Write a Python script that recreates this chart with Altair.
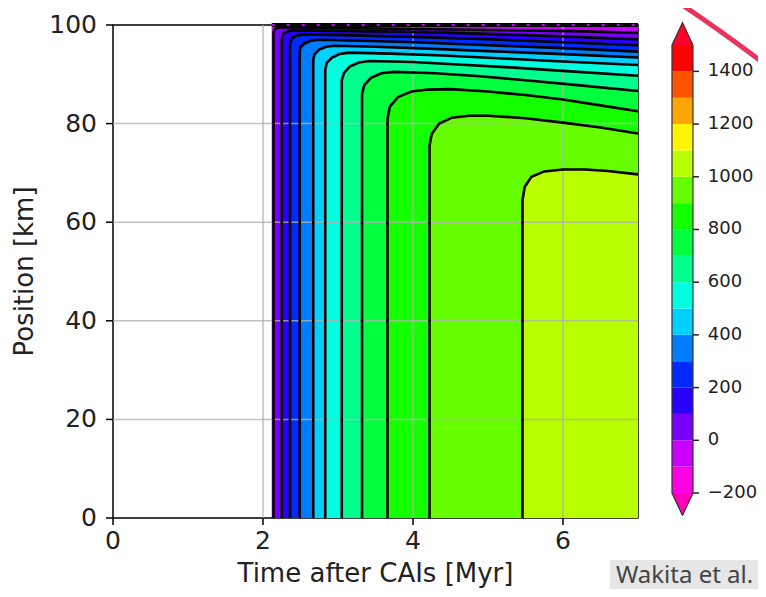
import altair as alt
import pandas as pd

# ---------------- main panel values ----------------
X_DOMAIN = [0, 7]
Y_DOMAIN = [0, 100]
X_TICKS = [0, 2, 4, 6]
Y_TICKS = [0, 20, 40, 60, 80, 100]
GRID_T = [2, 4, 6]
GRID_POS = [20, 40, 60, 80]
DATA_T_START = 2.116
DATA_T_END = 7.0
X_TITLE = "Time after CAIs [Myr]"
Y_TITLE = "Position [km]"

LEVELS = [0, 100, 200, 300, 400, 500, 600, 700, 800, 900, 1000]

c0_t = [2.14, 2.14, 2.145, 2.16, 2.19, 2.24, 2.5, 3.5, 4.5, 5.5, 6.3, 7.0]
c0_pos = [0, 98.2, 98.8, 99.2, 99.4, 99.5, 99.5, 99.3, 99.1, 98.9, 98.7, 98.4]
c100_t = [2.25, 2.25, 2.257, 2.28, 2.33, 2.40, 3.0, 4.0, 5.0, 6.0, 7.0]
c100_pos = [0, 97.2, 97.8, 98.4, 98.75, 98.9, 98.8, 98.6, 98.2, 97.7, 97.1]
c200_t = [2.36, 2.36, 2.37, 2.40, 2.46, 2.56, 3.2, 4.0, 5.0, 6.0, 7.0]
c200_pos = [0, 96.0, 96.8, 97.5, 97.9, 98.1, 97.9, 97.6, 97.1, 96.5, 95.9]
c300_t = [2.49, 2.49, 2.50, 2.56, 2.64, 2.74, 3.3, 4.0, 5.0, 6.0, 7.0]
c300_pos = [0, 94.6, 95.5, 96.3, 96.8, 97.0, 96.8, 96.5, 95.9, 95.3, 94.6]
c400_t = [2.67, 2.67, 2.69, 2.75, 2.84, 2.95, 3.5, 4.2, 5.0, 6.0, 7.0]
c400_pos = [0, 93.0, 94.1, 95.0, 95.6, 95.8, 95.6, 95.2, 94.7, 94.1, 93.4]
c500_t = [2.83, 2.83, 2.85, 2.92, 3.02, 3.15, 3.7, 4.4, 5.2, 6.0, 7.0]
c500_pos = [0, 91.0, 92.3, 93.4, 94.1, 94.4, 94.2, 93.8, 93.2, 92.6, 91.9]
c600_t = [3.05, 3.05, 3.08, 3.16, 3.28, 3.42, 4.0, 4.6, 5.3, 6.1, 7.0]
c600_pos = [0, 88.8, 90.3, 91.6, 92.4, 92.7, 92.5, 92.0, 91.4, 90.6, 89.7]
c700_t = [3.32, 3.32, 3.35, 3.44, 3.58, 3.74, 4.3, 4.9, 5.5, 6.2, 7.0]
c700_pos = [0, 86.0, 87.8, 89.3, 90.2, 90.5, 90.2, 89.6, 88.8, 87.8, 86.6]
c800_t = [3.66, 3.66, 3.69, 3.80, 3.98, 4.2, 4.5, 5.0, 5.5, 6.0, 6.5, 7.0]
c800_pos = [0, 81.0, 83.4, 85.4, 86.5, 86.9, 87.0, 86.5, 85.8, 84.9, 83.7, 82.5]
c900_t = [4.22, 4.22, 4.25, 4.35, 4.52, 4.75, 5.0, 5.5, 6.0, 6.5, 7.0]
c900_pos = [0, 75.5, 77.9, 80.0, 81.2, 81.6, 81.6, 81.1, 80.2, 79.2, 78.0]
c1000_t = [5.46, 5.46, 5.49, 5.58, 5.75, 6.0, 6.3, 6.6, 7.0]
c1000_pos = [0, 64.5, 67.2, 69.2, 70.3, 70.7, 70.7, 70.4, 69.7]

CONTOURS = {
    0: (c0_t, c0_pos), 100: (c100_t, c100_pos), 200: (c200_t, c200_pos),
    300: (c300_t, c300_pos), 400: (c400_t, c400_pos), 500: (c500_t, c500_pos),
    600: (c600_t, c600_pos), 700: (c700_t, c700_pos), 800: (c800_t, c800_pos),
    900: (c900_t, c900_pos), 1000: (c1000_t, c1000_pos),
}

# ---------------- colour bar values ----------------
CB_LOWER = [-200, -100, 0, 100, 200, 300, 400, 500, 600, 700, 800, 900,
            1000, 1100, 1200, 1300, 1400]
CB_STEP = 100
CB_COLORS = ["#ff00e2", "#c900ff", "#7800ff", "#2700ff", "#002bff", "#007dff",
             "#00cfff", "#00ffde", "#00ff8d", "#00ff3c", "#14ff00", "#66ff00",
             "#b8ff00", "#fff500", "#ffa400", "#ff5300", "#ff0100"]
CB_UNDER = "#ff00bf"
CB_OVER = "#ff0029"
CB_TICKS = [-200, 0, 200, 400, 600, 800, 1000, 1200, 1400]
CB_EXT = 85

# ---------------- decoration (slide overlay) ----------------
ARC_T = [7.32, 7.533, 7.827, 8.093, 8.387, 8.707, 8.893]
ARC_POS = [106.69, 104.67, 101.62, 98.78, 95.54, 91.89, 89.66]
NOTE_TEXT = "Wakita et al."

# ---------------- layout (in plot coordinates) ----------------
W, H = 525, 493
CB_T0, CB_T1 = 7.453, 7.733          # colour-bar left/right edge
CB_POS_LO, CB_POS_HI = 5.07, 95.94   # where -200 and 1500 sit on the plot's y scale
CB_TICK_T = 0.08
CB_LABEL_T = 7.93
AX_TICK_T = 0.093     # 7 px in time units
AX_TICK_POS = 1.42    # 7 px in position units
X_LABEL_POS = -2.2
Y_LABEL_T = -0.213
X_TITLE_POS = -12.98
Y_TITLE_T = -1.17
FONT = "DejaVu Sans"
TXT = "#222222"

xs = alt.Scale(domain=X_DOMAIN, nice=False, zero=False)
ys = alt.Scale(domain=Y_DOMAIN, nice=False, zero=False)
CB_MIN = CB_LOWER[0]
CB_MAX = CB_LOWER[-1] + CB_STEP


def cb_pos(v):
    return CB_POS_LO + (v - CB_MIN) / (CB_MAX - CB_MIN) * (CB_POS_HI - CB_POS_LO)


def color_above(level):
    return CB_COLORS[CB_LOWER.index(level)]


def X(field):
    return alt.X(field, type="quantitative", scale=xs, axis=None)


def Y(field):
    return alt.Y(field, type="quantitative", scale=ys, axis=None)


# data region background
base_df = pd.DataFrame({"t0": [DATA_T_START], "t1": [DATA_T_END],
                        "p0": [Y_DOMAIN[0]], "p1": [Y_DOMAIN[1]]})
base = alt.Chart(base_df).mark_rect(color=color_above(-100)).encode(
    x=X("t0"), x2="t1:Q", y=Y("p0"), y2="p1:Q")

rows = []
for lvl in LEVELS:
    ts, ps = CONTOURS[lvl]
    for i, (a, b) in enumerate(zip(ts, ps)):
        rows.append({"level": lvl, "i": i, "t": a, "pos": b, "zero": Y_DOMAIN[0]})
cdf = pd.DataFrame(rows)

fills = []
for lvl in LEVELS:
    sub = cdf[(cdf.level == lvl) & (cdf.i > 0)]
    fills.append(
        alt.Chart(sub).mark_area(color=color_above(lvl)).encode(
            x=X("t"), y=Y("pos"), y2="zero:Q"
        )
    )

grid_v = alt.Chart(pd.DataFrame({"t": GRID_T})).mark_rule(
    color="#b0b0b0", strokeWidth=1.5, opacity=0.8).encode(x=X("t"))
grid_h = alt.Chart(pd.DataFrame({"pos": GRID_POS})).mark_rule(
    color="#b0b0b0", strokeWidth=1.5, opacity=0.8).encode(y=Y("pos"))

lines = alt.Chart(cdf).mark_line(color="black", strokeWidth=2.6).encode(
    x=X("t"), y=Y("pos"), detail="level:N", order=alt.Order("i:Q"))

top_df = pd.DataFrame({"t0": [DATA_T_START], "t1": [DATA_T_END], "p": [Y_DOMAIN[1]]})
top_black = alt.Chart(top_df).mark_rule(color="black", strokeWidth=4).encode(
    x=X("t0"), x2="t1:Q", y=Y("p"))
top_dash = alt.Chart(top_df).mark_rule(
    color=color_above(-100), strokeWidth=2, strokeDash=[3, 12]).encode(
    x=X("t0"), x2="t1:Q", y=Y("p"))

# ---------------- axes (ticks, labels, titles) ----------------
xt_df = pd.DataFrame({"t": X_TICKS, "p0": Y_DOMAIN[0], "p1": Y_DOMAIN[0] - AX_TICK_POS,
                      "pl": X_LABEL_POS, "label": [str(v) for v in X_TICKS]})
x_ticks = alt.Chart(xt_df).mark_rule(color="black", strokeWidth=1.5).encode(
    x=X("t"), y=Y("p0"), y2="p1:Q")
x_labels = alt.Chart(xt_df).mark_text(
    baseline="top", align="center", font=FONT, fontSize=25, color=TXT).encode(
    x=X("t"), y=Y("pl"), text="label:N")

yt_df = pd.DataFrame({"pos": Y_TICKS, "t0": X_DOMAIN[0], "t1": X_DOMAIN[0] - AX_TICK_T,
                      "tl": Y_LABEL_T, "label": [str(v) for v in Y_TICKS]})
y_ticks = alt.Chart(yt_df).mark_rule(color="black", strokeWidth=1.5).encode(
    x=X("t0"), x2="t1:Q", y=Y("pos"))
y_labels = alt.Chart(yt_df).mark_text(
    baseline="middle", align="right", font=FONT, fontSize=25, color=TXT).encode(
    x=X("tl"), y=Y("pos"), text="label:N")

title_df = pd.DataFrame({
    "t": [(X_DOMAIN[0] + X_DOMAIN[1]) / 2, Y_TITLE_T],
    "pos": [X_TITLE_POS, (Y_DOMAIN[0] + Y_DOMAIN[1]) / 2],
    "text": [X_TITLE, Y_TITLE],
})
x_title = alt.Chart(title_df.iloc[[0]]).mark_text(
    baseline="alphabetic", align="center", font=FONT, fontSize=26, color=TXT).encode(
    x=X("t"), y=Y("pos"), text="text:N")
y_title = alt.Chart(title_df.iloc[[1]]).mark_text(
    baseline="middle", align="center", angle=270, font=FONT, fontSize=26,
    color=TXT).encode(x=X("t"), y=Y("pos"), text="text:N")

# ---------------- colour bar (drawn on the same scales, right of the plot) ----------------
cb_df = pd.DataFrame({
    "x0": CB_T0, "x1": CB_T1,
    "y0": [cb_pos(v) for v in CB_LOWER],
    "y1": [cb_pos(v + CB_STEP) for v in CB_LOWER],
    "c": CB_COLORS,
})
cb_rects = alt.Chart(cb_df).mark_rect().encode(
    x=X("x0"), x2="x1:Q", y=Y("y0"), y2="y1:Q", color=alt.Color("c:N", scale=None))

mid = (CB_T0 + CB_T1) / 2
arrow_top = alt.Chart(pd.DataFrame({
    "x": [CB_T0, mid, CB_T1],
    "y": [cb_pos(CB_MAX), cb_pos(CB_MAX + CB_EXT), cb_pos(CB_MAX)],
    "y2": cb_pos(CB_MAX)})).mark_area(color=CB_OVER).encode(
    x=X("x"), y=Y("y"), y2="y2:Q")
arrow_bot = alt.Chart(pd.DataFrame({
    "x": [CB_T0, mid, CB_T1],
    "y": [cb_pos(CB_MIN), cb_pos(CB_MIN - CB_EXT), cb_pos(CB_MIN)],
    "y2": cb_pos(CB_MIN)})).mark_area(color=CB_UNDER).encode(
    x=X("x"), y=Y("y"), y2="y2:Q")

outline_df = pd.DataFrame({
    "x": [mid, CB_T0, CB_T0, mid, CB_T1, CB_T1, mid],
    "y": [cb_pos(CB_MIN - CB_EXT), cb_pos(CB_MIN), cb_pos(CB_MAX),
          cb_pos(CB_MAX + CB_EXT), cb_pos(CB_MAX), cb_pos(CB_MIN),
          cb_pos(CB_MIN - CB_EXT)],
    "i": list(range(7)),
})
outline = alt.Chart(outline_df).mark_line(color="#333333", strokeWidth=1.2).encode(
    x=X("x"), y=Y("y"), order=alt.Order("i:Q"))

tick_df = pd.DataFrame({
    "x0": CB_T1, "x1": CB_T1 + CB_TICK_T, "xl": CB_LABEL_T,
    "y": [cb_pos(v) for v in CB_TICKS],
    "label": [str(v).replace("-", "\u2212") for v in CB_TICKS],
})
cb_ticks = alt.Chart(tick_df).mark_rule(color=TXT, strokeWidth=1.5).encode(
    x=X("x0"), x2="x1:Q", y=Y("y"))
cb_labels = alt.Chart(tick_df).mark_text(
    align="left", baseline="middle", font=FONT, fontSize=18, color=TXT).encode(
    x=X("xl"), y=Y("y"), text="label:N")

# ---------------- slide overlay ----------------
arc = alt.Chart(pd.DataFrame({"t": ARC_T, "pos": ARC_POS,
                              "i": list(range(len(ARC_T)))})).mark_line(
    color="#e8345c", strokeWidth=5, strokeCap="round"
).encode(x=X("t"), y=Y("pos"), order=alt.Order("i:Q"))

one = pd.DataFrame({"a": [0]})
note_box = alt.Chart(one).mark_rect(color="#e6e6e6").encode(
    x=alt.value(497), x2=alt.value(680), y=alt.value(535), y2=alt.value(600))
note_text = alt.Chart(one).mark_text(
    align="left", baseline="alphabetic", fontSize=24, font="Noto Sans",
    color="#444444").encode(x=alt.value(503), y=alt.value(558),
                            text=alt.value(NOTE_TEXT))

chart = alt.layer(
    base, *fills, grid_v, grid_h, lines, top_black, top_dash,
    x_ticks, x_labels, y_ticks, y_labels, x_title, y_title,
    cb_rects, arrow_top, arrow_bot, outline, cb_ticks, cb_labels,
    arc, note_box, note_text,
).properties(
    width=W, height=H,
    padding={"left": 105, "top": 17, "right": 120, "bottom": 71},
    autosize=alt.AutoSizeParams(type="none"),
).configure_view(stroke="black", strokeWidth=1.5)

chart.save("out.html", embed_options={"renderer": "svg", "actions": False})
